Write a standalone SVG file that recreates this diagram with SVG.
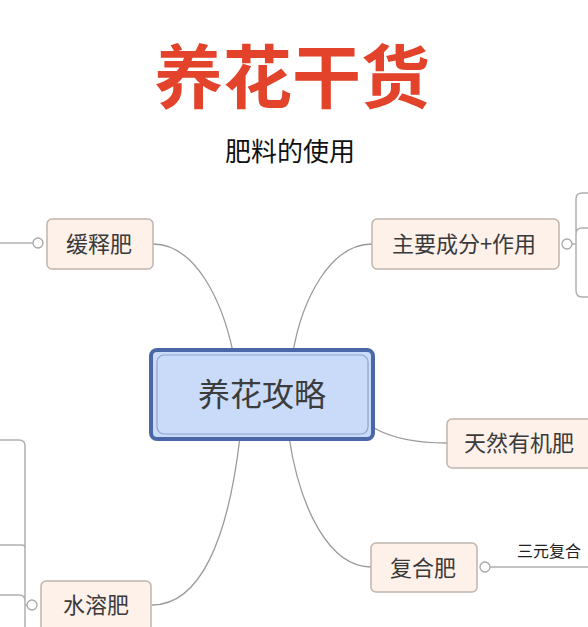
<svg xmlns="http://www.w3.org/2000/svg" width="588" height="627" viewBox="0 0 588 627">
<style>
.conn{fill:none;stroke:#9a9a9a;stroke-width:1.3}
.br{fill:none;stroke:#b0b0b0;stroke-width:1.5}
.node{fill:#fdf1ea;stroke:#bfb5ad;stroke-width:1.5}
.lbl{font-family:"Noto Sans CJK SC","Noto Sans",sans-serif;font-size:22px;fill:#3a3a3a;text-anchor:middle}
.start{text-anchor:start}
.col{fill:#fff;stroke:#a8a8a8;stroke-width:1.3}
</style>
<rect width="588" height="627" fill="#fff"/>
<g id="title">
<text x="292" y="103" font-family="'Noto Sans CJK SC',sans-serif" font-weight="700" font-size="69" fill="#e2432a" text-anchor="middle">养花干货</text>
<text x="290" y="161" font-family="'Noto Sans CJK SC',sans-serif" font-size="26" fill="#111" text-anchor="middle">肥料的使用</text>
</g>
<g id="connectors">
<path class="conn" d="M153 244 C195 244 222 300 233 352"/>
<path class="conn" d="M372 244 C330 244 302 300 293 352"/>
<path class="conn" d="M374 428 C395 440 420 443 447 443"/>
<path class="conn" d="M289 437 C300 510 330 567 371 567"/>
<path class="conn" d="M240 437 C228 540 200 605 152 605"/>
<path class="br" d="M0 243 H33"/>
<path class="br" d="M490 567 H588"/>
<path class="br" d="M572 244 H576 M588 193 H582 Q576 193 576 199 V290 Q576 297 582 297 H588 M576 234 Q576 228 582 228 H588"/>
<path class="br" d="M27 605 H25 M0 440 H19 Q25 440 25 446 V627 M0 545 H22 Q25 545 25 548 M0 595 H19 Q25 595 25 601"/>
</g>
<g id="n-center">
<rect x="151" y="350" width="222" height="89" rx="6" fill="#c9dbf8" stroke="#4a68a6" stroke-width="4"/>
<rect x="157" y="355" width="211" height="79" rx="7" fill="#c9dbf8" stroke="#8ea4cc" stroke-width="1.2"/>
<text x="262" y="406" font-family="'Noto Sans CJK SC',serif" font-size="32" fill="#3c3c3c" text-anchor="middle">养花攻略</text>
</g>
<g id="n-huanshi">
<rect class="node" x="47" y="219" width="106" height="50" rx="5"/>
<text class="lbl" x="99" y="252">缓释肥</text>
<circle class="col" cx="38" cy="243" r="5"/>
</g>
<g id="n-zhuyao">
<rect class="node" x="372" y="219" width="187" height="50" rx="5"/>
<text class="lbl" x="464" y="252">主要成分+作用</text>
<circle class="col" cx="567" cy="244" r="5"/>
</g>
<g id="n-tianran">
<rect class="node" x="447" y="419" width="150" height="49" rx="5"/>
<text class="lbl start" x="464" y="451">天然有机肥</text>
</g>
<g id="n-fuhe">
<rect class="node" x="371" y="543" width="106" height="49" rx="5"/>
<text class="lbl" x="423" y="576">复合肥</text>
<circle class="col" cx="485" cy="567" r="5"/>
<text x="517" y="557" font-family="'Noto Sans CJK SC',sans-serif" font-size="16" fill="#222">三元复合</text>
</g>
<g id="n-shuirong">
<rect class="node" x="41" y="581" width="110" height="60" rx="5"/>
<text class="lbl" x="96" y="613">水溶肥</text>
<circle class="col" cx="32" cy="605" r="5"/>
</g>
</svg>
